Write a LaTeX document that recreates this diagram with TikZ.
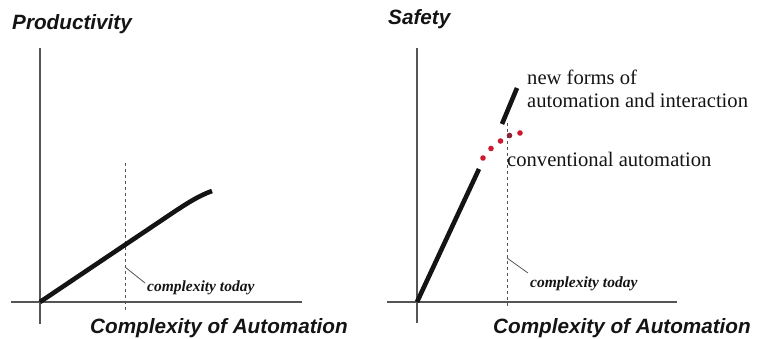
\documentclass[tikz,border=0pt]{standalone}
\usepackage{fontspec}
\setmainfont{Liberation Serif}
\newfontfamily\arialf{Liberation Sans}
\definecolor{axisgray}{RGB}{85,85,85}
\definecolor{dotred}{RGB}{205,25,45}
\definecolor{dotdark}{RGB}{140,35,55}
\definecolor{ink}{RGB}{20,20,20}
\tikzset{
  axisline/.style={draw=axisgray, line width=1.1pt},
  todayline/.style={draw=axisgray, line width=0.9pt, dash pattern=on 3.5pt off 2.5pt},
  leader/.style={draw=axisgray, line width=0.8pt},
  curveline/.style={draw=ink, line width=4.6pt},
  titletext/.style={inner sep=0pt, anchor=base west, text=ink, font=\arialf\bfseries\itshape\fontsize{20.7}{24}\selectfont},
  todaytext/.style={inner sep=0pt, anchor=base west, text=ink, font=\bfseries\itshape\fontsize{15.5}{18}\selectfont},
  notetext/.style={inner sep=0pt, anchor=base west, text=ink, font=\fontsize{20.6}{24}\selectfont},
  reddot/.style={circle, fill=dotred, inner sep=0pt, minimum size=5.6pt}
}
\begin{document}
\begin{tikzpicture}[x=1pt, y=-1pt]
\useasboundingbox (0,0) rectangle (761,339);
% ---------- left panel ----------
\coordinate (lyt) at (40,48);
\coordinate (lyb) at (40,324);
\coordinate (lxl) at (11,302);
\coordinate (lxr) at (302,302);
\coordinate (lo) at (40,302);
\coordinate (ldt) at (125,163);
\coordinate (ldb) at (125,311);
\coordinate (lla) at (125,267);
\coordinate (llb) at (145,283);
\coordinate (lc1) at (165,218);
\coordinate (lc2) at (212,191);
\draw[axisline] (lyt) -- (lyb);
\draw[axisline] (lxl) -- (lxr);
\draw[todayline] (ldt) -- (ldb);
\draw[leader] (lla) -- (llb);
\draw[curveline] (lo) -- (lc1) .. controls (185,204.5) and (198,196) .. (lc2);
\node[titletext] (ptitle) at (12,30) {Productivity};
\node[todaytext] (ltoday) at (147,292) {complexity today};
\node[titletext] (lxlabel) at (90,334) {Complexity of Automation};
% ---------- right panel ----------
\coordinate (ryt) at (417,48);
\coordinate (ryb) at (417,323);
\coordinate (rxl) at (387,302);
\coordinate (rxr) at (677,302);
\coordinate (ro) at (417,302);
\coordinate (rdt) at (507,123);
\coordinate (rdb) at (507,307);
\coordinate (rla) at (507,258);
\coordinate (rlb) at (528,273);
\coordinate (rc1) at (479,169);
\coordinate (rn1) at (502,124);
\coordinate (rn2) at (517,88);
\draw[axisline] (ryt) -- (ryb);
\draw[axisline] (rxl) -- (rxr);
\draw[todayline] (rdt) -- (rdb);
\draw[leader] (rla) -- (rlb);
\draw[curveline] (ro) -- (rc1);
\draw[curveline] (rn1) -- (rn2);
\foreach \px/\py in {483/158, 491/148.5, 500.5/141, 520/133} {
  \node[reddot] at (\px,\py) {};
}
\node[reddot, fill=dotdark] (rdotx) at (509.5,135.5) {};
\node[titletext] (stitle) at (388,25) {Safety};
\node[notetext] (newforms) at (527,85) {new forms of};
\node[notetext] (newforms2) at (527,108) {automation and interaction};
\node[notetext] (conv) at (507,167) {conventional automation};
\node[todaytext] (rtoday) at (530,288) {complexity today};
\node[titletext] (rxlabel) at (493,334) {Complexity of Automation};
\end{tikzpicture}
\end{document}
